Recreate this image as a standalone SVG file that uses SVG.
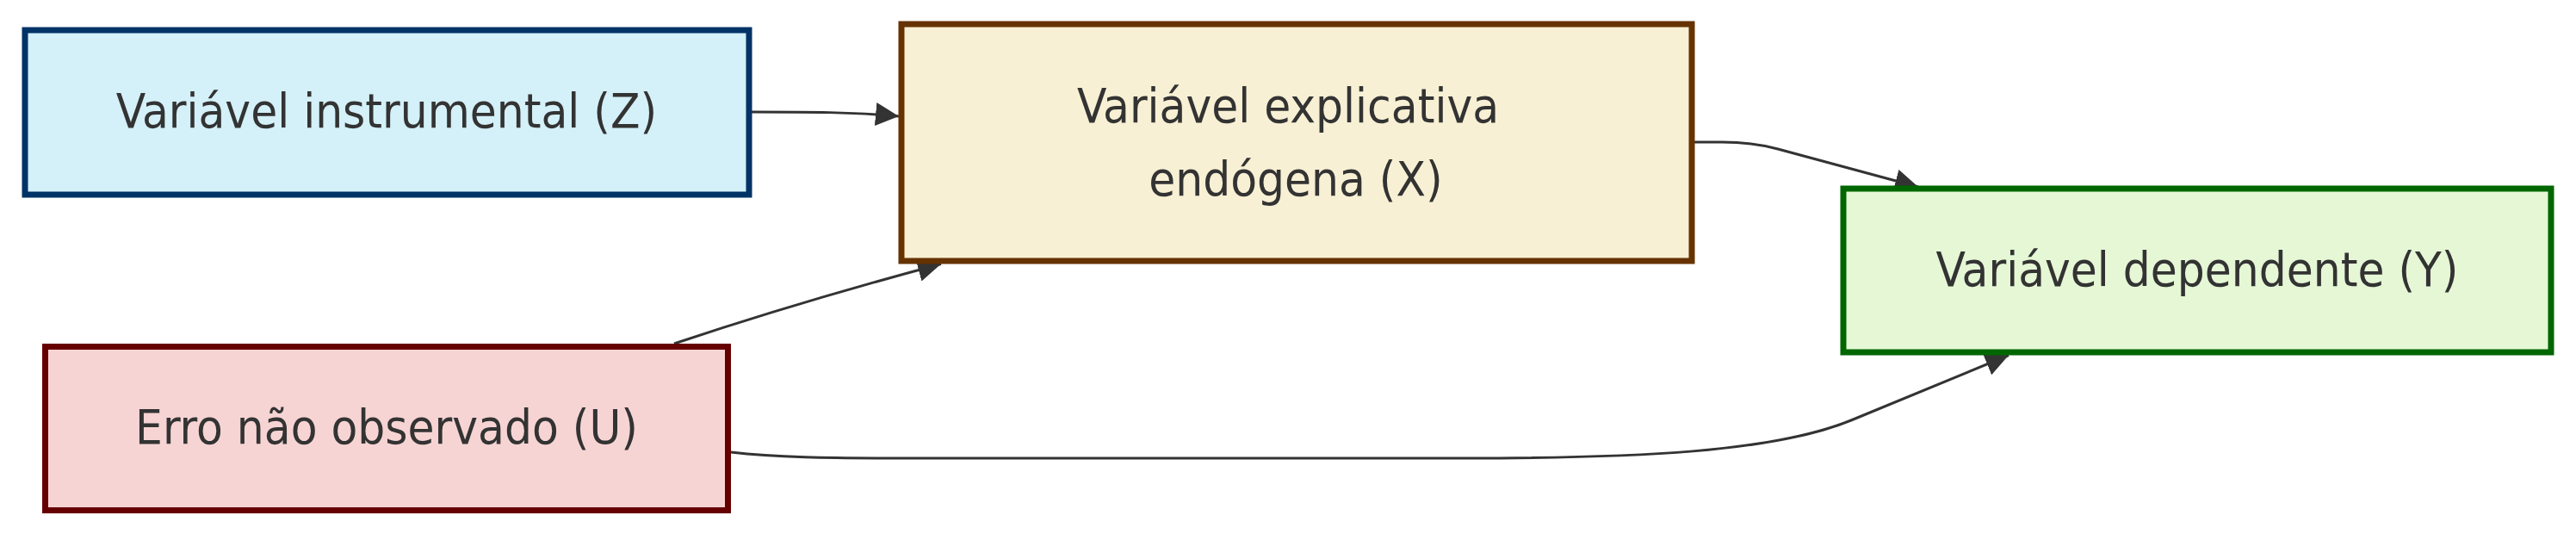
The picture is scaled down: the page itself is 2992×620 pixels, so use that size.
<svg xmlns="http://www.w3.org/2000/svg" width="2992" height="620" viewBox="0 0 2992 620">
<style>
.node rect{stroke-width:7}
.node text{font-family:"DejaVu Sans Condensed","DejaVu Sans",sans-serif;font-size:56px;fill:#333;text-anchor:middle}
.edge{fill:none;stroke:#333;stroke-width:3}
</style>
<defs>
<marker id="arrow" viewBox="0 0 10 10" refX="10" refY="5" markerUnits="userSpaceOnUse" markerWidth="27" markerHeight="27" orient="auto">
<path d="M0,0 L10,5 L0,10 z" fill="#333"/>
</marker>
</defs>
<rect width="2992" height="620" fill="#fff"/>
<g id="connectors">
<path class="edge" d="M873,130 C940,130 990,130 1044,135" marker-end="url(#arrow)"/>
<path class="edge" d="M1967,165 L2000,165 Q2035,165 2065,173 L2228,217" marker-end="url(#arrow)"/>
<path class="edge" d="M783,399 Q930,350 1093,306.5" marker-end="url(#arrow)"/>
<path class="edge" d="M849,525 C900,531 960,532 1050,532 L1700,532 C1900,532 2060,525 2150,488 L2333,412.5" marker-end="url(#arrow)"/>
</g>
<g id="Z" class="node">
<rect x="29" y="35" width="841" height="191" fill="#d4f0f8" stroke="#003366"/>
<text x="449" y="148">Variável instrumental (Z)</text>
</g>
<g id="X" class="node">
<rect x="1047" y="28" width="918" height="275" fill="#f8f0d4" stroke="#663300"/>
<text x="1496" y="142">Variável explicativa</text>
<text x="1505" y="227">endógena (X)</text>
</g>
<g id="Y" class="node">
<rect x="2141" y="219" width="822" height="190" fill="#e5f7d5" stroke="#006600"/>
<text x="2552" y="332">Variável dependente (Y)</text>
</g>
<g id="U" class="node">
<rect x="52.5" y="402.5" width="793" height="190" fill="#f7d4d4" stroke="#660000"/>
<text x="449" y="515">Erro não observado (U)</text>
</g>
</svg>
